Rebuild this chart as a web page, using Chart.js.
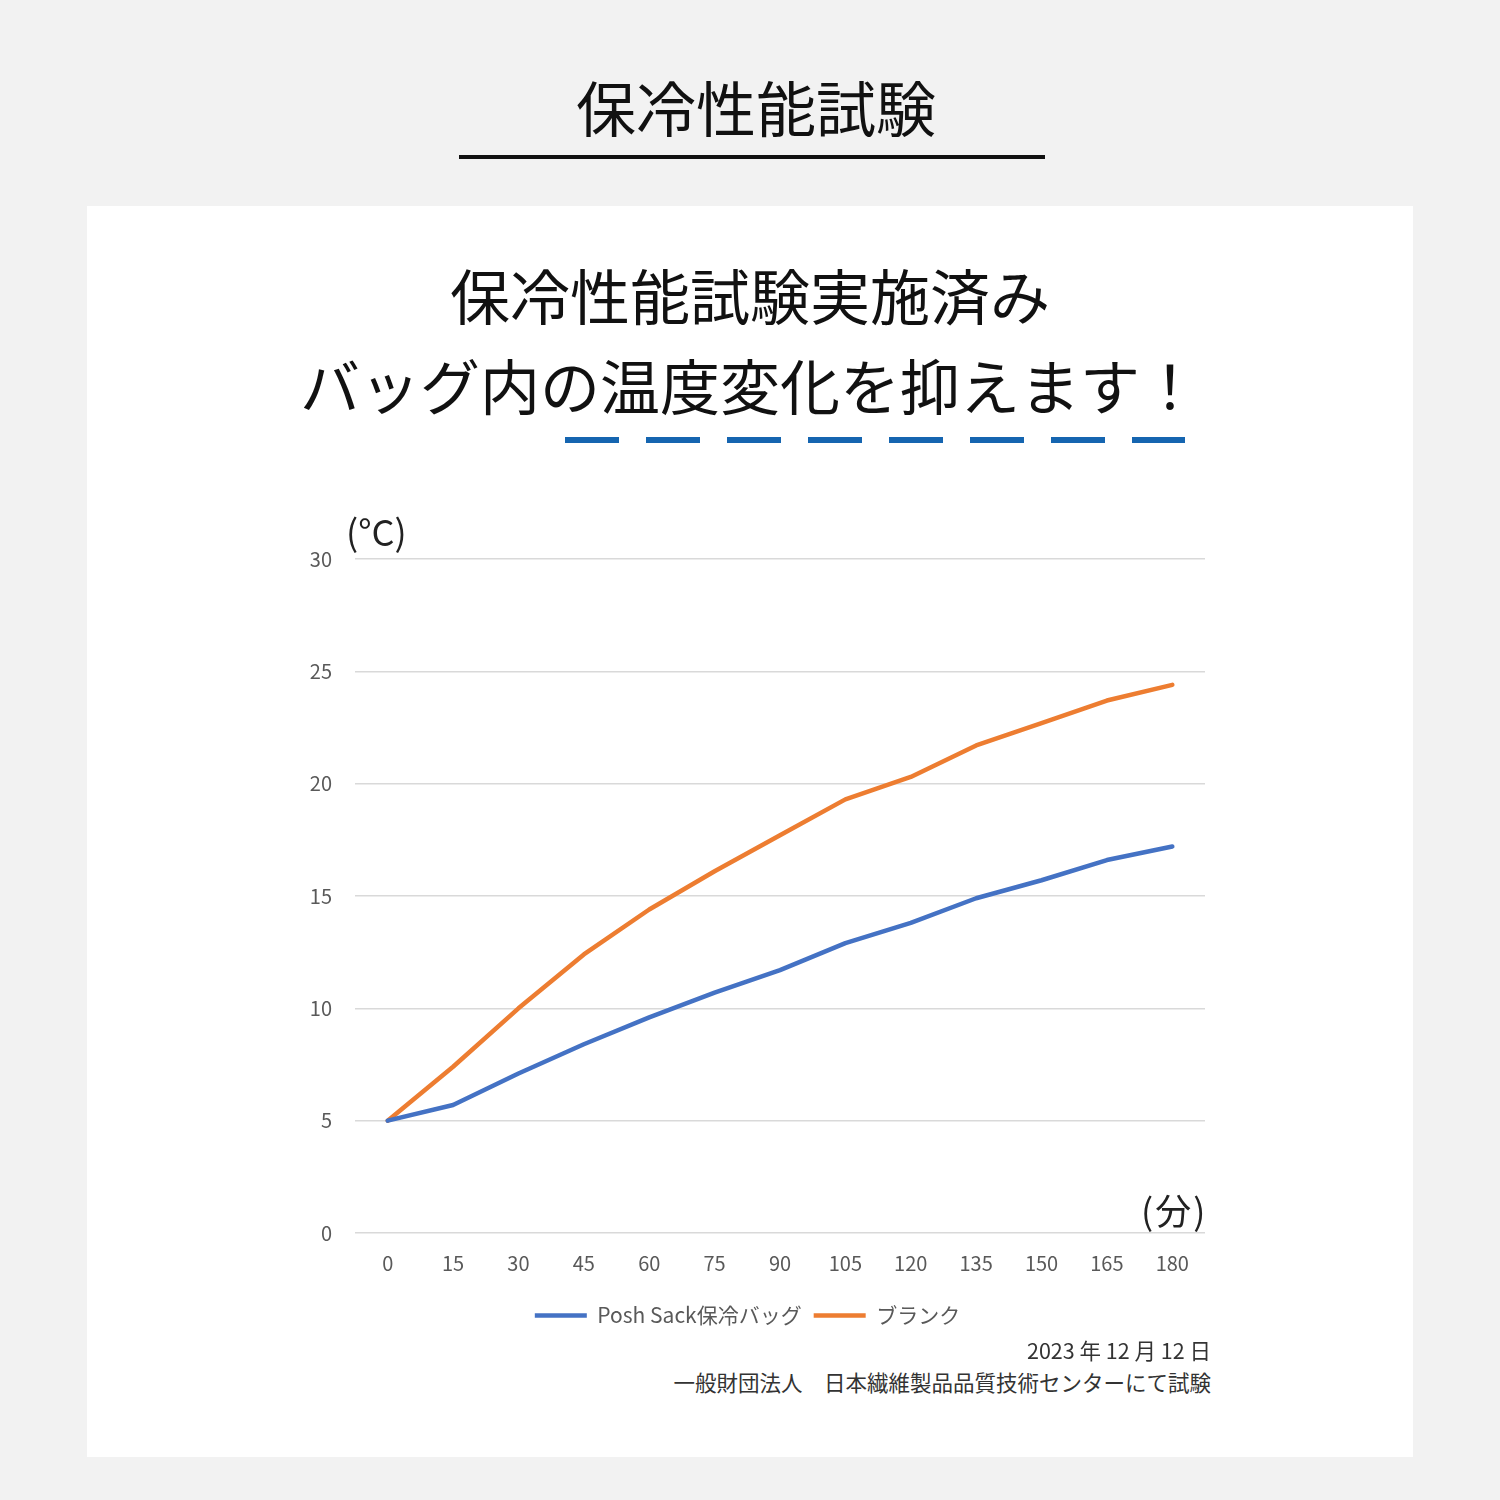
<!DOCTYPE html>
<html lang="ja">
<head>
<meta charset="utf-8">
<title>保冷性能試験</title>
<script src="https://cdn.jsdelivr.net/npm/chart.js@4"></script>
<style>
  html, body { margin: 0; padding: 0; }
  body {
    width: 1500px; height: 1500px; position: relative; overflow: hidden;
    background: #f2f2f2;
    font-family: "Noto Sans CJK JP", "Noto Sans", sans-serif;
    color: #111;
  }
  .abs { position: absolute; white-space: nowrap; }
  .page-title { left: 0; width: 1512px; top: 66px; text-align: center; font-size: 60px; line-height: 80px; }
  .page-rule { left: 459px; top: 155px; width: 586px; height: 4px; background: #111; }
  .card { left: 87px; top: 206px; width: 1326px; height: 1251px; background: #fff; }
  .headline { left: 0; width: 1500px; text-align: center; font-size: 60px; line-height: 80px; }
  .dash {
    left: 565px; top: 437px; width: 620px; height: 6px;
    background: repeating-linear-gradient(90deg, #1565b0 0 54px, transparent 54px 81px);
  }
  .unit { font-size: 36px; color: #222; line-height: 40px; }
  .foot { right: 289px; font-size: 21.5px; color: #333; line-height: 26px; }
  #chart-wrap { position: absolute; left: 290px; top: 524px; width: 930px; height: 812px; }
</style>
</head>
<body>
<div class="abs page-title">保冷性能試験</div>
<div class="abs page-rule"></div>
<div class="abs card"></div>
<div class="abs headline" style="top:254px">保冷性能試験実施済み</div>
<div class="abs headline" style="top:344px">バッグ内の温度変化を抑えます！</div>
<div class="abs dash"></div>

<div id="chart-wrap"><canvas id="coolChart"></canvas></div>

<div class="abs unit" style="left:346px; top:510px">(°C)</div>
<div class="abs unit" style="left:1141px; top:1189px; letter-spacing:2px">(分)</div>
<div class="abs foot" style="top:1337px">2023 年 12 月 12 日</div>
<div class="abs foot" style="top:1369px">一般財団法人　日本繊維製品品質技術センターにて試験</div>

<script>
// 経過時間(分)
const minutes = ['0', '15', '30', '45', '60', '75', '90', '105', '120', '135', '150', '165', '180'];
// 温度(°C)
const poshSack = [5.0, 5.7, 7.1, 8.4, 9.6, 10.7, 11.7, 12.9, 13.8, 14.9, 15.7, 16.6, 17.2];
const blank = [5.0, 7.4, 10.0, 12.4, 14.4, 16.1, 17.7, 19.3, 20.3, 21.7, 22.7, 23.7, 24.4];
const seriesNames = ['Posh Sack保冷バッグ', 'ブランク'];
const yTicks = [0, 5, 10, 15, 20, 25, 30];

const tickFont = { family: '"Noto Sans CJK JP", "Noto Sans", sans-serif', size: 20 };
const legendFont = { family: '"Noto Sans CJK JP", "Noto Sans", sans-serif', size: 21 };

const ctx = document.getElementById('coolChart');
new Chart(ctx, {
    type: 'line',
    data: {
        labels: minutes,
        datasets: [{
            label: seriesNames[0], data: poshSack,
            borderColor: '#4472C4', backgroundColor: '#4472C4',
            borderWidth: 4.5, pointRadius: 0, tension: 0, borderCapStyle: 'round', borderJoinStyle: 'round'
        }, {
            label: seriesNames[1], data: blank,
            borderColor: '#ED7D31', backgroundColor: '#ED7D31',
            borderWidth: 4.5, pointRadius: 0, tension: 0, borderCapStyle: 'round', borderJoinStyle: 'round'
        }]
    },
    options: {
        responsive: true, maintainAspectRatio: false, animation: false,
        layout: { padding: { top: 0, right: 15, left: 0, bottom: 0 } },
        plugins: {
            tooltip: { enabled: false },
            legend: {
                position: 'bottom',
                labels: {
                    color: '#595959', font: legendFont, padding: 12,
                    usePointStyle: true, pointStyle: 'line', pointStyleWidth: 52, boxHeight: 20
                }
            }
        },
        scales: {
            x: {
                offset: true,
                grid: { display: false, drawTicks: false },
                border: { display: false },
                ticks: { color: '#595959', font: tickFont, padding: 18, maxRotation: 0 }
            },
            y: {
                min: 0, max: 30,
                afterFit: s => { s.width = 65; },
                afterBuildTicks: s => { s.ticks = yTicks.map(v => ({ value: v })); },
                grid: { color: '#d9d9d9', lineWidth: 1.5, drawTicks: false },
                border: { display: false },
                ticks: { color: '#595959', font: tickFont, padding: 23 }
            }
        }
    }
});
</script>
</body>
</html>
